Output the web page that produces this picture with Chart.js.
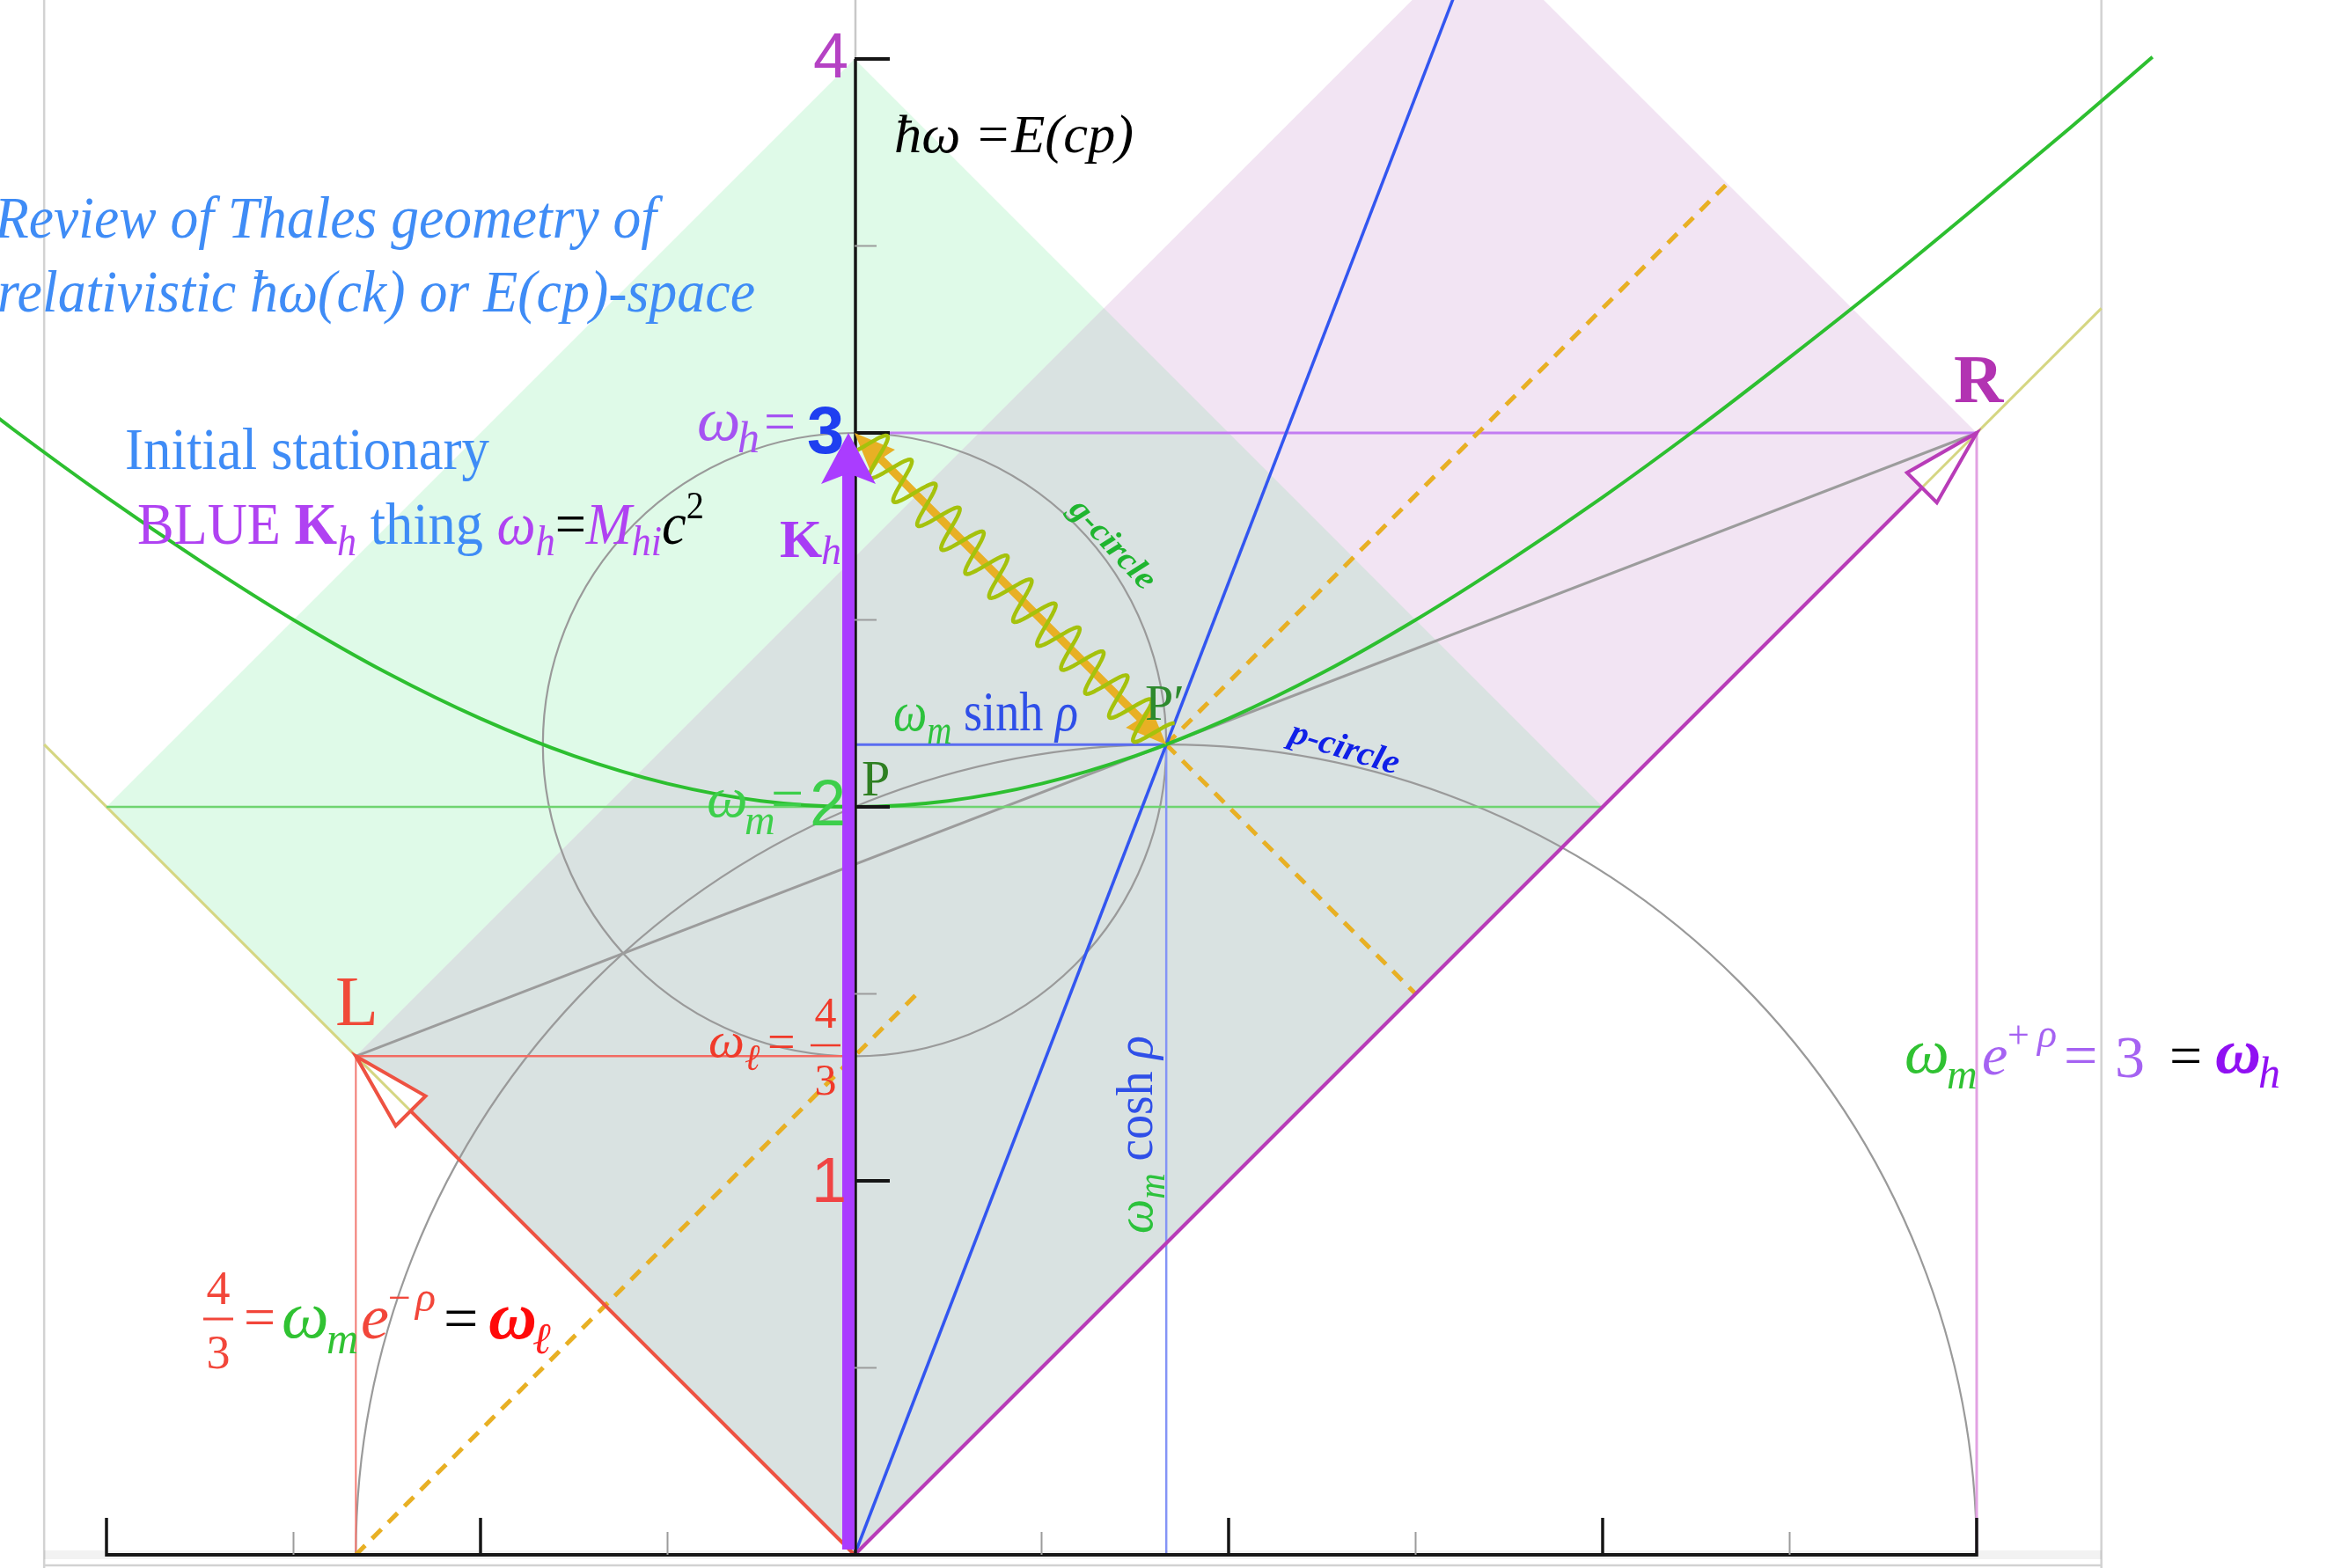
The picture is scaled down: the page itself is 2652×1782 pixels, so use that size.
<!DOCTYPE html>
<html>
<head>
<meta charset="utf-8">
<script src="https://cdn.jsdelivr.net/npm/chart.js@4/dist/chart.umd.min.js"></script>
<style>
  html, body { margin: 0; padding: 0; background: #ffffff; overflow: hidden; }
  canvas { display: block; }
</style>
</head>
<body>
<canvas id="thales" width="2652" height="1782"></canvas>
<script>
// ---------- values of the construction ----------
const omegaM = 2;          // rest frequency  ω_m
const omegaH = 3;          // ω_h = ω_m e^{+ρ}
const omegaL = 4 / 3;      // ω_ℓ = ω_m e^{-ρ}
const pointL = [-4 / 3, 4 / 3];
const pointR = [3, 3];
const pointP = [0, 2];
const pointPp = [5 / 6, 13 / 6];          // P′ = (ω_m sinh ρ, ω_m cosh ρ)

// g-circle and p-circle: centre and radius
const gCircle = { k: 0, w: 13 / 6, r: 5 / 6 };
const pCircle = { k: 5 / 6, w: 0, r: 13 / 6 };

// mass hyperbola ω = √(ω_m² + (ck)²)
const hypK = [-2.5, -2.25, -2, -1.75, -1.5, -1.25, -1, -0.75, -0.5, -0.25, 0, 0.25, 0.5, 0.75, 1, 1.25, 1.5, 1.75, 2, 2.25, 2.5, 2.75, 3, 3.25, 3.47];
const hypW = [3.202, 3.010, 2.828, 2.658, 2.5, 2.358, 2.236, 2.136, 2.062, 2.016, 2, 2.016, 2.062, 2.136, 2.236, 2.358, 2.5, 2.658, 2.828, 3.010, 3.202, 3.400, 3.606, 3.816, 4.005];

// axis ticks
const yTicksMajor = [1, 2, 3, 4];
const yTicksMinor = [0.5, 1.5, 2.5, 3.5];
const xTicksMajor = [-2, -1, 1, 2, 3];
const xTicksMinor = [-1.5, -0.5, 0.5, 1.5, 2.5];

// shaded light-cone rectangles
const greenSquare = [[0, 0], [-2, 2], [0, 4], [2, 2]];
const pinkSquare = [[0, 0], [3, 3], [5 / 3, 13 / 3], [-4 / 3, 4 / 3]];
const overlapSquare = [[0, 0], [-4 / 3, 4 / 3], [2 / 3, 10 / 3], [2, 2]];

// frame edges and the ray through P′
const frameK = [-13 / 6, 10 / 3];
const blueRayEnd = [1.6, 4.16];
const dashLower = [[-4 / 3, 0], [1 / 6, 1.5]];
const dashUpper = [[5 / 6, 13 / 6], [7 / 3, 11 / 3]];
const dashCross = [[5 / 6, 13 / 6], [1.5, 1.5]];

// ---------- view window ----------
const K_MIN = -2.2847, K_MAX = 3.9553;
const W_MIN = -0.0353, W_MAX = 4.1576;

const serif = '"Liberation Serif", "Times New Roman", serif';
const sans = '"Liberation Sans", Arial, sans-serif';
const F = (style, size, fam) => (style ? style + ' ' : '') + size + 'px ' + (fam || serif);

const toXY = pts => pts.map(p => ({ x: p[0], y: p[1] }));
function lineDs(pts, color, width, extra) {
  return Object.assign({ data: toXY(pts), showLine: true, borderColor: color, borderWidth: width,
    pointRadius: 0, fill: false, tension: 0 }, extra || {});
}
function areaDs(pts, color) {
  return { data: toXY(pts.concat([pts[0]])), showLine: true, borderColor: 'rgba(0,0,0,0)',
    borderWidth: 0, backgroundColor: color, pointRadius: 0, fill: 'shape', tension: 0 };
}

const datasets = [
  areaDs(greenSquare, '#dffae8'),
  areaDs(pinkSquare, '#f2e4f3'),
  areaDs(overlapSquare, '#d9e2e1'),
  lineDs([[frameK[0], -frameK[0]], [0, 0]], '#d5d682', 3),
  lineDs([[0, 0], [frameK[1], frameK[1]]], '#d5d682', 3),
  lineDs([pointL, pointR], '#9c9c9c', 3),
  lineDs([[-omegaM, omegaM], [omegaM, omegaM]], '#6fd470', 2.5),
  lineDs([pointL, [0, omegaL]], '#f26a62', 2.5),
  lineDs([pointL, [pointL[0], 0]], '#f27a72', 2),
  lineDs([[0, omegaH], pointR], '#c27cf2', 3),
  lineDs([pointR, [pointR[0], 0]], '#e2a2e2', 3),
  lineDs([pointPp, [pointPp[0], 0]], '#8494f6', 2.5),
  lineDs([[0, pointPp[1]], pointPp], '#5a6cf0', 3),
  lineDs(dashLower, '#e8b024', 5, { borderDash: [15, 11] }),
  lineDs(dashUpper, '#e8b024', 5, { borderDash: [15, 11] }),
  lineDs(dashCross, '#e8b024', 5, { borderDash: [15, 11] }),
  lineDs([[0, 0], blueRayEnd], '#3356f0', 3.5),
  lineDs([[0, 0], pointL], '#ee5242', 4),
  lineDs([[0, 0], pointR], '#b83cb8', 4),
  lineDs(hypK.map((k, i) => [k, hypW[i]]), '#2dbf30', 4, { tension: 0.4, cubicInterpolationMode: 'monotone' })
];
datasets.forEach((d, i) => { d.order = datasets.length - i; });
const LAST_FILL = 2;

function seg(ctx, x1, y1, x2, y2) { ctx.beginPath(); ctx.moveTo(x1, y1); ctx.lineTo(x2, y2); ctx.stroke(); }

function headPath(ctx, tx, ty, dx, dy, len, half, notch) {
  const bx = tx - dx * len, by = ty - dy * len, nx = -dy, ny = dx;
  ctx.beginPath();
  ctx.moveTo(tx, ty);
  ctx.lineTo(bx + nx * half, by + ny * half);
  if (notch) ctx.lineTo(tx - dx * (len - notch), ty - dy * (len - notch));
  ctx.lineTo(bx - nx * half, by - ny * half);
  ctx.closePath();
}

// draws a row of text pieces; optional target width squeezes it horizontally
function runs(ctx, list, x, y, opt) {
  opt = opt || {};
  let w = 0;
  for (const r of list) { ctx.font = r.f; w += ctx.measureText(r.t).width + (r.gap || 0); }
  const sx = opt.width ? opt.width / w : 1;
  const x0 = opt.align === 'right' ? x - w * sx : (opt.align === 'center' ? x - w * sx / 2 : x);
  ctx.save();
  ctx.translate(x0, y);
  ctx.scale(sx, 1);
  ctx.textBaseline = 'alphabetic';
  ctx.textAlign = 'left';
  let cx = 0;
  for (const r of list) {
    ctx.font = r.f; ctx.fillStyle = r.c;
    ctx.fillText(r.t, cx, r.dy || 0);
    cx += ctx.measureText(r.t).width + (r.gap || 0);
  }
  ctx.restore();
}
function put(ctx, t, x, y, f, c, align) {
  ctx.font = f; ctx.fillStyle = c; ctx.textAlign = align || 'left'; ctx.textBaseline = 'alphabetic';
  ctx.fillText(t, x, y);
}

const geometry = {
  id: 'geometry',
  afterDatasetDraw(chart, args) {
    if (args.index !== LAST_FILL) return;
    const ctx = chart.ctx, xs = chart.scales.x, ys = chart.scales.y;
    const X = v => xs.getPixelForValue(v), Y = v => ys.getPixelForValue(v);
    ctx.save();
    // frame
    ctx.strokeStyle = '#d2d2d2'; ctx.lineWidth = 2.5;
    seg(ctx, X(frameK[0]), 0, X(frameK[0]), chart.height);
    seg(ctx, X(frameK[1]), 0, X(frameK[1]), chart.height);
    seg(ctx, X(frameK[0]), chart.height - 3, X(frameK[1]), chart.height - 3);
    // g-circle and p-circle
    ctx.strokeStyle = '#9a9a9a'; ctx.lineWidth = 2.2;
    ctx.beginPath();
    ctx.ellipse(X(gCircle.k), Y(gCircle.w), X(gCircle.r) - X(0), Y(0) - Y(gCircle.r), 0, 0, Math.PI * 2);
    ctx.stroke();
    ctx.beginPath();
    ctx.ellipse(X(pCircle.k), Y(pCircle.w), X(pCircle.r) - X(0), Y(0) - Y(pCircle.r), 0, Math.PI, Math.PI * 2);
    ctx.stroke();
    ctx.restore();
  },
  afterDatasetsDraw(chart) {
    const ctx = chart.ctx, xs = chart.scales.x, ys = chart.scales.y;
    const X = v => xs.getPixelForValue(v), Y = v => ys.getPixelForValue(v);
    ctx.save();
    ctx.lineCap = 'butt';

    // ---- axes ----
    ctx.strokeStyle = 'rgba(0,0,0,0.05)'; ctx.lineWidth = 10;
    seg(ctx, X(frameK[0]), Y(0), X(frameK[1]), Y(0));
    ctx.strokeStyle = '#c8c8c8'; ctx.lineWidth = 2.5;
    seg(ctx, X(0) + 1, Y(4), X(0) + 1, 0);
    ctx.strokeStyle = '#151515'; ctx.lineWidth = 3.5;
    seg(ctx, X(0) + 1, Y(0), X(0) + 1, Y(4));
    ctx.lineWidth = 4;
    seg(ctx, X(xTicksMajor[0]), Y(0), X(xTicksMajor[xTicksMajor.length - 1]), Y(0));
    ctx.strokeStyle = '#151515'; ctx.lineWidth = 4;
    yTicksMajor.forEach(v => seg(ctx, X(0), Y(v), X(0) + 40, Y(v)));
    ctx.lineWidth = 3.5;
    xTicksMajor.forEach(v => seg(ctx, X(v), Y(0) + 2, X(v), Y(0) - 42));
    ctx.strokeStyle = '#9c9c9c'; ctx.lineWidth = 2;
    yTicksMinor.forEach(v => seg(ctx, X(0), Y(v), X(0) + 25, Y(v)));
    xTicksMinor.forEach(v => seg(ctx, X(v), Y(0), X(v), Y(0) - 26));

    // ---- hollow arrowheads at L and R ----
    const hollow = (pt, color) => {
      const tx = X(pt[0]), ty = Y(pt[1]);
      let dx = tx - X(0), dy = ty - Y(0);
      const n = Math.hypot(dx, dy); dx /= n; dy /= n;
      headPath(ctx, tx, ty, dx, dy, 88, 24, 0);
      ctx.fillStyle = '#ffffff'; ctx.fill();
      ctx.strokeStyle = '#d5d682'; ctx.lineWidth = 3;
      seg(ctx, tx, ty, tx - dx * 88, ty - dy * 88);
      headPath(ctx, tx, ty, dx, dy, 88, 24, 0);
      ctx.strokeStyle = color; ctx.lineWidth = 4; ctx.lineJoin = 'miter'; ctx.stroke();
    };
    hollow(pointL, '#ee5242');
    hollow(pointR, '#b83cb8');

    // ---- photon from ω_h to P′ ----
    const ax = X(0), ay = Y(omegaH), bx = X(pointPp[0]), by = Y(pointPp[1]);
    const len = Math.hypot(bx - ax, by - ay), ux = (bx - ax) / len, uy = (by - ay) / len;
    ctx.strokeStyle = '#e8b024'; ctx.lineWidth = 9;
    seg(ctx, ax + ux * 30, ay + uy * 30, bx - ux * 30, by - uy * 30);
    ctx.fillStyle = '#e8b024';
    headPath(ctx, bx, by, ux, uy, 46, 19, 4); ctx.fill();
    headPath(ctx, ax, ay, -ux, -uy, 46, 19, 4); ctx.fill();
    ctx.strokeStyle = '#a5c20c'; ctx.lineWidth = 4.5; ctx.lineJoin = 'round';
    ctx.beginPath();
    const periods = 13, amp = 24;
    for (let s = 6; s <= len - 10; s += 1.5) {
      const o = amp * Math.sin(2 * Math.PI * periods * s / len);
      const px = ax + ux * s - uy * o, py = ay + uy * s + ux * o;
      if (s === 6) ctx.moveTo(px, py); else ctx.lineTo(px, py);
    }
    ctx.stroke();

    // ---- K_h arrow ----
    const kx = X(0) - 7, tipY = Y(omegaH);
    ctx.fillStyle = '#aa3cff';
    ctx.fillRect(kx - 7, tipY + 44, 14, Y(0) - 6 - (tipY + 44));
    headPath(ctx, kx, tipY, 0, -1, 58, 31, 12); ctx.fill();

    // ---- text ----
    const capBlue = '#3f8cf6', purple = '#b042f2', green = '#2cc23c', blue = '#2f4fe8', red = '#f03a2a';
    runs(ctx, [{ t: 'ħω =E(cp)', f: F('italic', 62), c: '#000' }], 1016, 173, { width: 272 });
    runs(ctx, [{ t: 'Review of Thales geometry of', f: F('italic', 68), c: capBlue }], 746, 270, { width: 752, align: 'right' });
    runs(ctx, [{ t: 'relativistic ħω(ck) or E(cp)-space', f: F('italic', 68), c: capBlue }], 858, 354, { width: 861, align: 'right' });
    runs(ctx, [{ t: 'Initial stationary', f: F('', 68), c: capBlue }], 142, 533, { width: 414 });
    runs(ctx, [
      { t: 'BLUE ', f: F('', 68), c: purple },
      { t: 'K', f: F('bold', 68), c: purple },
      { t: 'h', f: F('italic', 48), c: purple, dy: 13 },
      { t: ' thing ', f: F('', 68), c: capBlue },
      { t: 'ω', f: F('italic', 68), c: purple },
      { t: 'h', f: F('italic', 48), c: purple, dy: 13 },
      { t: '=', f: F('', 68), c: '#000' },
      { t: 'M', f: F('italic', 68), c: purple },
      { t: 'hi', f: F('italic', 48), c: purple, dy: 13 },
      { t: 'c', f: F('italic', 68), c: '#000' },
      { t: '2', f: F('', 44), c: '#000', dy: -29 }
    ], 156, 618, { width: 644 });

    // ω_h = 3
    put(ctx, 'ω', 792, 500, F('italic', 70), '#a553f2');
    put(ctx, 'h', 838, 514, F('italic', 50), '#a553f2');
    put(ctx, '=', 868, 500, F('', 64), '#a553f2');
    put(ctx, '3', 917, 515, F('bold', 76, sans), '#1f3ff0');
    // K_h
    put(ctx, 'K', 886, 633, F('bold', 62), '#a83cf5');
    put(ctx, 'h', 933, 641, F('italic', 46), '#a83cf5');

    // circle names
    ctx.save(); ctx.translate(1265, 618); ctx.rotate(47 * Math.PI / 180);
    runs(ctx, [{ t: 'g-circle', f: F('bold italic', 38), c: '#1fb52f' }], 0, 12, { width: 126, align: 'center' });
    ctx.restore();
    ctx.save(); ctx.translate(1528, 850); ctx.rotate(17 * Math.PI / 180);
    runs(ctx, [{ t: 'p-circle', f: F('bold italic', 40), c: '#1020e8' }], 0, 12, { width: 128, align: 'center' });
    ctx.restore();

    put(ctx, 'P′', 1301, 818, F('', 58), '#2d8a2d');
    runs(ctx, [
      { t: 'ω', f: F('italic', 64), c: green },
      { t: 'm', f: F('italic', 46), c: green, dy: 15 },
      { t: ' sinh ', f: F('', 64), c: blue },
      { t: 'ρ', f: F('italic', 64), c: blue }
    ], 1015, 830, { width: 210 });
    put(ctx, 'P', 979, 904, F('', 58), '#2f7f22');

    // ω_m = 2
    put(ctx, 'ω', 803, 928, F('italic', 66), '#3dcf4b');
    put(ctx, 'm', 846, 948, F('italic', 48), '#3dcf4b');
    put(ctx, '=', 876, 930, F('', 66), '#3dcf4b');
    put(ctx, '2', 920, 938, F('', 74, sans), '#3dcf4b');

    put(ctx, 'L', 381, 1165, F('', 80), '#f04a38');
    put(ctx, 'R', 2220, 457, F('bold', 78), '#b233b2');

    // ω_ℓ = 4/3
    put(ctx, 'ω', 805, 1201, F('italic', 58), red);
    put(ctx, 'ℓ', 846, 1216, F('italic', 42), red);
    put(ctx, '=', 872, 1203, F('', 56), red);
    put(ctx, '4', 938, 1168, F('', 50), red, 'center');
    ctx.strokeStyle = red; ctx.lineWidth = 2.5; seg(ctx, 921, 1188, 955, 1188);
    put(ctx, '3', 938, 1244, F('', 50), red, 'center');

    put(ctx, '1', 962, 1366, F('', 72, sans), '#f04444', 'right');
    put(ctx, '4', 924, 88, F('', 72, sans), '#b542c4');

    // ω_m cosh ρ (vertical)
    ctx.save(); ctx.translate(1309, 1402); ctx.rotate(-Math.PI / 2);
    runs(ctx, [
      { t: 'ω', f: F('italic', 60), c: green },
      { t: 'm', f: F('italic', 44), c: green, dy: 14 },
      { t: ' cosh ', f: F('', 60), c: blue },
      { t: 'ρ', f: F('italic', 60), c: blue }
    ], 0, 0, { width: 225 });
    ctx.restore();

    // ω_m e^{+ρ} = 3 = ω_h
    put(ctx, 'ω', 2164, 1219, F('italic', 72), '#30c232');
    put(ctx, 'm', 2212, 1237, F('italic', 48), '#30c232');
    put(ctx, 'e', 2252, 1221, F('italic', 66), '#a562f2');
    put(ctx, '+', 2281, 1191, F('', 44), '#a562f2');
    put(ctx, 'ρ', 2315, 1190, F('italic', 46), '#a562f2');
    put(ctx, '=', 2345, 1222, F('', 68), '#a562f2');
    put(ctx, '3', 2403, 1224, F('', 68), '#a562f2');
    put(ctx, '=', 2465, 1222, F('', 66), '#000');
    put(ctx, 'ω', 2517, 1219, F('bold italic', 72), '#9010f2');
    put(ctx, 'h', 2566, 1236, F('italic', 50), '#9010f2');

    // 4/3 = ω_m e^{-ρ} = ω_ℓ
    put(ctx, '4', 248, 1482, F('', 54), '#f2463a', 'center');
    ctx.strokeStyle = '#f2463a'; ctx.lineWidth = 3; seg(ctx, 231, 1499, 265, 1499);
    put(ctx, '3', 248, 1555, F('', 54), '#f2463a', 'center');
    put(ctx, '=', 277, 1518, F('', 64), '#f2463a');
    put(ctx, 'ω', 320, 1520, F('italic', 76), '#30c232');
    put(ctx, 'm', 371, 1538, F('italic', 50), '#30c232');
    put(ctx, 'e', 410, 1521, F('italic', 72), '#f2463a');
    put(ctx, '−', 441, 1490, F('', 46), '#f2463a');
    put(ctx, 'ρ', 472, 1490, F('italic', 48), '#f2463a');
    put(ctx, '=', 504, 1522, F('', 70), '#000');
    put(ctx, 'ω', 555, 1521, F('bold italic', 76), '#ff0a0a');
    put(ctx, 'ℓ', 605, 1538, F('italic', 50), '#ff2020');

    ctx.restore();
  }
};

new Chart(document.getElementById('thales'), {
  type: 'scatter',
  data: { datasets },
  options: {
    responsive: false,
    animation: false,
    events: [],
    layout: { padding: 0 },
    scales: {
      x: { type: 'linear', min: K_MIN, max: K_MAX, display: false },
      y: { type: 'linear', min: W_MIN, max: W_MAX, display: false }
    },
    plugins: { legend: { display: false }, tooltip: { enabled: false } }
  },
  plugins: [geometry]
});
</script>
</body>
</html>
